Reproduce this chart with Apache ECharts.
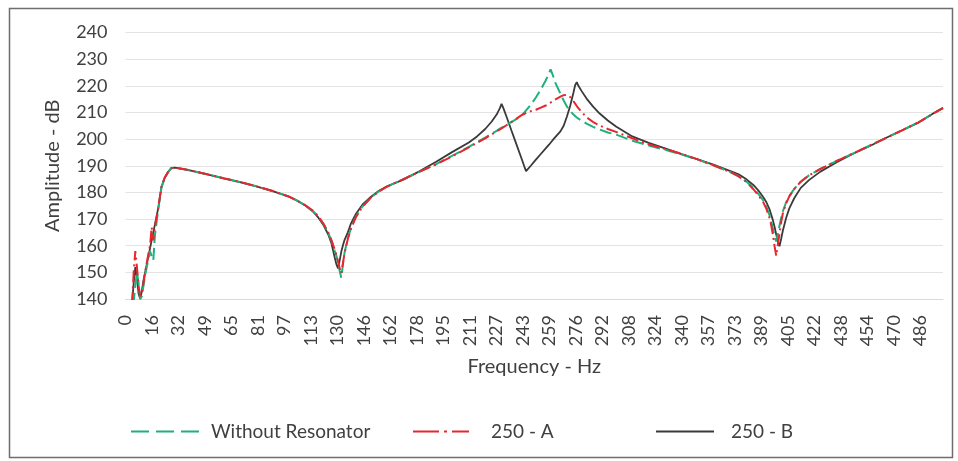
<!DOCTYPE html>
<html>
<head>
<meta charset="utf-8">
<script src="https://cdn.jsdelivr.net/npm/echarts@6/dist/echarts.min.js"></script>
<style>
html,body{margin:0;padding:0;background:#fff;}
#chart{width:958px;height:461px;}
</style>
</head>
<body>
<div id="chart"></div>
<script>
// ---- data ----
const freqs = [4,5,6,7,8,9,10,11,12,13,14,15,16,17,18,
  20,22,24,26,28,30,
  35,40,50,60,70,80,90,100,
  105,110,115,118,121,124,126,
  128,129,130,131,132,133,134,
  136,138,141,145,150,155,160,170,180,190,200,
  210,215,220,224,227,229,230,231,233,236,239,242,
  244,245,246,248,251,254,257,259,260,261,263,266,268,270,
  272,274,275,276,277,279,282,286,290,295,300,
  310,320,330,340,350,360,370,375,380,384,387,390,
  392,394,395,396,397,398,399,400,401,402,404,406,
  409,413,418,425,435,445,455,465,475,485,495,500];

const withoutResonator = [138,139,145,150,146,140,141,145,149,152,155,158,156,154.5,164,
  173.5,181.8,185.4,187.6,189.1,189.3,
  188.8,188.2,186.8,185.3,183.9,182.3,180.5,178.4,
  176.9,175.1,172.8,170.8,168.2,164.8,161.8,
  158,156.2,153.8,150.5,148,153,157.5,
  162.8,166.8,171,174.8,178,180.4,182.2,185,187.8,190.6,193.8,
  197.1,198.9,200.6,202,203.1,203.9,204.3,204.6,205.3,206.4,207.5,208.8,
  210,210.8,211.5,213,215.6,218.6,222,224.7,226.2,224.6,221,217,214.5,212.2,
  210.6,209.2,208.6,208.1,207.7,206.9,205.8,204.6,203.6,202.5,201.7,
  199.4,197.6,196,194.3,192.3,190.1,187.6,186.1,184,181.6,179.5,177,
  174.6,171.3,169,166.2,163.2,161.6,164.5,167.5,170.3,172.8,176.2,178.6,
  181.3,184,186.4,188.8,191.8,194.6,197.5,200.4,203.3,206.3,209.9,211.6];

const res250A = [138,150,158,152,145,141,142,146,150,153.5,157,160,167,162,167,
  174.3,182.2,185.6,187.6,189.1,189.3,
  188.8,188.2,186.8,185.3,183.9,182.3,180.5,178.4,
  176.9,175.2,173,171,168.3,165,162,
  158.5,156.5,154,151.5,149.6,153.5,157.2,
  162.6,166.6,170.8,174.7,178,180.4,182.2,185,187.8,190.5,193.6,
  196.9,198.6,200.3,201.8,202.9,203.6,204,204.4,205.2,206.4,207.6,208.9,
  209.5,209.8,210.1,210.5,211,211.8,212.6,213.3,213.7,214.1,214.9,215.9,216.5,216.6,
  215.8,214.2,213.3,212.4,211.6,210.2,208.2,206.4,205.1,203.8,202.7,
  200.3,198,196.3,194.5,192.4,190.1,187.6,186,183.8,181.2,179,176.4,
  173.8,170.2,167.5,164,159.8,156.2,160.5,164.5,168.8,172,175.8,178.5,
  181.2,184,186.4,188.8,191.8,194.6,197.5,200.4,203.3,206.3,209.9,211.6];

const res250B = [138,146,152,148,142,140,143,147,150,153,156,159,162,165,168,
  174,182,185.5,187.6,189.1,189.3,
  188.8,188.2,186.8,185.3,183.9,182.3,180.5,178.4,
  176.9,175.1,172.6,170.5,167.8,164.2,160.8,
  155.5,153,151.5,154.5,157.8,160.2,162.2,
  165,168.5,172,175.5,178.3,180.6,182.3,184.8,188,191.5,195.2,
  198.7,201,203.8,206.6,209.2,211.6,213.2,211.8,208.5,203.3,198.2,193.1,
  189.6,188,188.7,190.1,192.3,194.4,196.5,197.9,198.6,199.4,200.8,202.9,205,208.5,
  212.5,217.5,220.2,221.4,220,218,215.2,212.2,209.6,207,204.7,
  201,198.6,196.5,194.4,192.4,190.3,188,186.8,184.8,182.8,180.8,178.3,
  176.3,173.5,171.5,169.5,167,164.2,161.7,159.8,162.5,165.5,170.3,174,
  177.8,181.7,184.6,187.8,191.3,194.5,197.3,200.4,203.3,206.2,210,211.8];

const seriesNames = ['Without Resonator','250 - A','250 - B'];
const xTickLabels = ['0','16','32','49','65','81','97','113','130','146','162','178','195','211','227','243','259','276','292','308','324','340','357','373','389','405','422','438','454','470','486'];
const xTickStep = 16.211;
const yMin = 140, yMax = 240, yStep = 10;
const xMin = 0, xMax = 500;

// ---- chart ----
const pairs = arr => freqs.map((f, i) => [f, arr[i]]);
const FONT = 'Lato';
const chart = echarts.init(document.getElementById('chart'), null, {renderer: 'canvas'});

const legendBase = {
  orient: 'horizontal', top: 422, padding: 0, itemHeight: 14,
  itemStyle: {opacity: 0},
  textStyle: {fontFamily: FONT, fontSize: 19, color: '#404040'}
};

chart.setOption({
  animation: false,
  backgroundColor: '#fff',
  graphic: [{
    type: 'rect', left: 7, top: 6, z: -1,
    shape: {width: 943, height: 449},
    style: {fill: 'none', stroke: '#6e6e6e', lineWidth: 1.5}
  }],
  grid: {left: 125.5, right: 15, top: 32.5, bottom: 162, containLabel: false},
  legend: [
    Object.assign({}, legendBase, {left: 130, itemWidth: 75, data: [seriesNames[0]],
      lineStyle: {type: [18, 7]}}),
    Object.assign({}, legendBase, {left: 412, itemWidth: 56, data: [seriesNames[1]],
      lineStyle: {type: [26, 5, 3, 5]},
      textStyle: Object.assign({}, legendBase.textStyle, {padding: [0, 0, 0, 17]})}),
    Object.assign({}, legendBase, {left: 655, itemWidth: 58, data: [seriesNames[2]],
      textStyle: Object.assign({}, legendBase.textStyle, {padding: [0, 0, 0, 12]})})
  ],
  xAxis: {
    type: 'value', min: xMin, max: xMax, interval: xTickStep,
    name: 'Frequency - Hz', nameLocation: 'middle', nameGap: 58,
    nameTextStyle: {fontFamily: FONT, fontSize: 20, color: '#404040'},
    axisLine: {show: true, lineStyle: {color: '#d9d9d9', width: 1}},
    axisTick: {show: false},
    splitLine: {show: false},
    axisLabel: {
      rotate: 90, margin: 16, fontFamily: FONT, fontSize: 18, color: '#404040',
      showMaxLabel: false,
      formatter: v => {
        const i = Math.round(v / xTickStep);
        return Math.abs(v - i * xTickStep) < 0.01 && xTickLabels[i] !== undefined ? xTickLabels[i] : '';
      }
    }
  },
  yAxis: {
    type: 'value', min: yMin, max: yMax, interval: yStep,
    name: 'Amplitude - dB', nameLocation: 'middle', nameGap: 63,
    nameTextStyle: {fontFamily: FONT, fontSize: 20, color: '#404040'},
    axisLine: {show: false}, axisTick: {show: false},
    splitLine: {lineStyle: {color: '#e3e3e3', width: 1}},
    axisLabel: {margin: 18, fontFamily: FONT, fontSize: 18, color: '#404040'}
  },
  series: [
    {name: seriesNames[0], type: 'line', data: pairs(withoutResonator), symbol: 'none', smooth: false,
      z: 2, lineStyle: {color: '#1fb07e', width: 2, type: [12, 5]}, itemStyle: {color: '#1fb07e'}},
    {name: seriesNames[1], type: 'line', data: pairs(res250A), symbol: 'none', smooth: false,
      z: 3, lineStyle: {color: '#e8262e', width: 2, type: [12, 4, 2, 4]}, itemStyle: {color: '#e8262e'}},
    {name: seriesNames[2], type: 'line', data: pairs(res250B), symbol: 'none', smooth: false,
      z: 1, lineStyle: {color: '#3a3a3a', width: 1.8, type: 'solid'}, itemStyle: {color: '#3a3a3a'}}
  ]
});
</script>
</body>
</html>
